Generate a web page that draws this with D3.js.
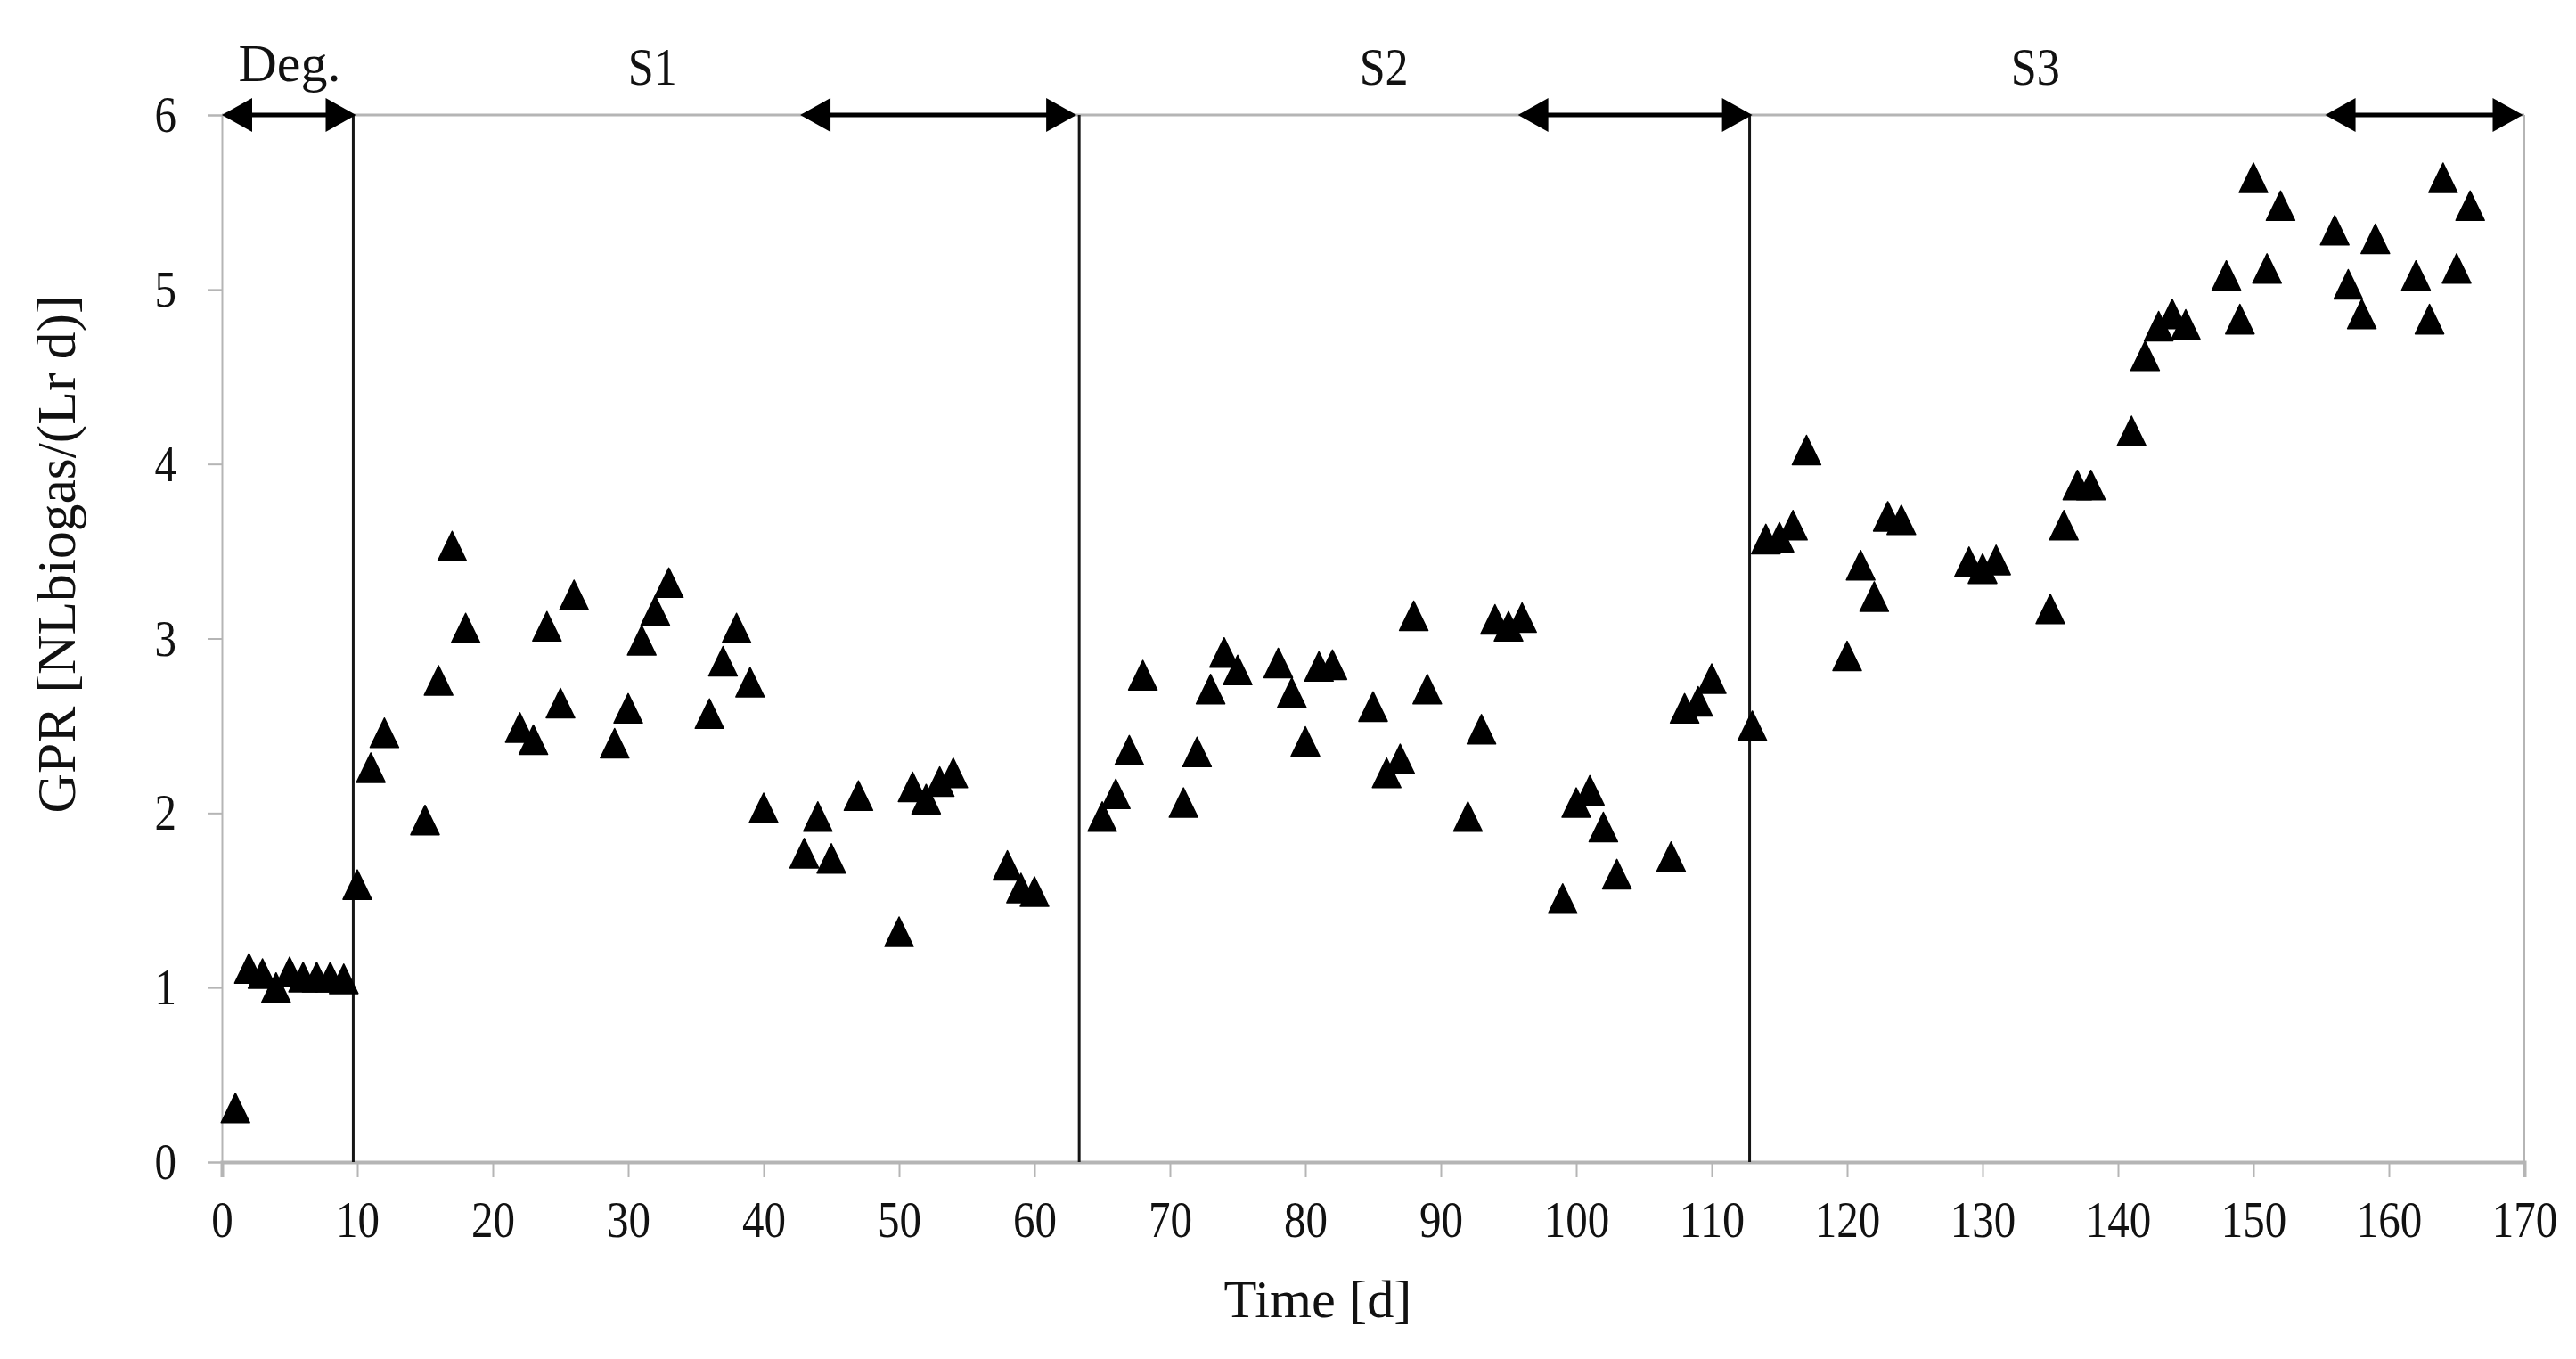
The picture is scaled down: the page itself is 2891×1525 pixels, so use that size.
<!DOCTYPE html>
<html>
<head>
<meta charset="utf-8">
<script src="https://cdn.jsdelivr.net/npm/d3@7"></script>
<style>
  html, body { margin: 0; padding: 0; background: #ffffff; }
  svg { display: block; }
  text { font-family: "Liberation Serif", "Times New Roman", serif; fill: #111; }
</style>
</head>
<body>
<svg id="chart" width="2891" height="1525"></svg>
<script>
// ---------- data ----------
const days = [1,2,3,4,5,6,7,8,9,10,11,12,15,16,17,18,22,23,24,25,26,29,30,31,32,33,36,37,38,39,40,43,44,45,47,50,51,52,53,54,58,59,60,
  65,66,67,68,71,72,73,74,75,78,79,80,81,82,85,86,87,88,89,92,93,94,95,96,99,100,101,102,103,107,108,109,110,113,
  114,115,116,117,120,121,122,123,124,129,130,131,135,136,137,138,141,142,143,144,145,148,149,150,151,152,156,157,158,159,162,163,164,165,166];
const gpr = [0.31,1.11,1.08,1.00,1.09,1.06,1.06,1.06,1.05,1.59,2.26,2.46,1.96,2.76,3.53,3.06,2.49,2.42,3.07,2.63,3.25,2.40,2.60,2.99,3.16,3.32,2.57,2.87,3.06,2.75,2.03,1.77,1.98,1.74,2.10,1.32,2.15,2.08,2.18,2.23,1.70,1.57,1.55,
  1.98,2.11,2.36,2.79,2.06,2.35,2.71,2.92,2.82,2.86,2.69,2.41,2.84,2.85,2.61,2.23,2.31,3.13,2.71,1.98,2.48,3.11,3.07,3.12,1.51,2.06,2.13,1.92,1.65,1.75,2.60,2.64,2.77,2.50,
  3.57,3.58,3.65,4.08,2.90,3.42,3.24,3.70,3.68,3.44,3.40,3.45,3.17,3.65,3.88,3.88,4.19,4.62,4.79,4.86,4.80,5.08,4.83,5.64,5.12,5.48,5.34,5.03,4.86,5.29,5.08,4.83,5.64,5.12,5.48];

const xTicks = [0,10,20,30,40,50,60,70,80,90,100,110,120,130,140,150,160,170];
const yTicks = [0,1,2,3,4,5,6];

const phaseBoundaries = [9.7, 63.3, 112.8];
const phaseLabels = ["Deg.", "S1", "S2", "S3"];
const phaseLabelPos = [5.0, 31.8, 85.8, 133.9];
const arrowStart = [0, 42.7, 95.7, 155.3];
const arrowEnd = [9.9, 63.1, 113.0, 169.9];

const xTitle = "Time [d]";
const yTitle = "GPR [NLbiogas/(Lr d)]";

// ---------- layout ----------
const svg = d3.select("#chart");
const mLeft = 249, mRight = 2833, mTop = 129, mBottom = 1304;
const x = d3.scaleLinear().domain([0, 170]).range([mLeft, mRight]);
const y = d3.scaleLinear().domain([0, 6]).range([mBottom, mTop]);
const FS = 58;
const DIGIT_W = 24.5;
const axisColor = "#b5b5b5";

svg.append("rect").attr("width", 2891).attr("height", 1525).attr("fill", "#fff");

// frame top & right
svg.append("line").attr("x1", x(0)).attr("x2", x(170)).attr("y1", y(6)).attr("y2", y(6))
  .attr("stroke", axisColor).attr("stroke-width", 3);
svg.append("line").attr("x1", x(170)).attr("x2", x(170)).attr("y1", y(6)).attr("y2", y(0))
  .attr("stroke", axisColor).attr("stroke-width", 2);

// y axis
const gy = svg.append("g").attr("transform", `translate(${mLeft},0)`)
  .call(d3.axisLeft(y).tickValues(yTicks).tickFormat(d3.format("d")).tickSize(16).tickPadding(35));
gy.select(".domain").attr("stroke", axisColor).attr("stroke-width", 2);
gy.selectAll(".tick line").attr("stroke", axisColor).attr("stroke-width", 2);
gy.selectAll(".tick text").attr("font-size", FS).attr("font-family", "Liberation Serif").attr("fill", "#111")
  .attr("textLength", d => String(d).length * DIGIT_W).attr("lengthAdjust", "spacingAndGlyphs");

// x axis
const gx = svg.append("g").attr("transform", `translate(0,${mBottom})`)
  .call(d3.axisBottom(x).tickValues(xTicks).tickFormat(d3.format("d")).tickSize(17).tickPadding(28));
gx.select(".domain").attr("stroke", axisColor).attr("stroke-width", 4);
gx.selectAll(".tick line").attr("stroke", axisColor).attr("stroke-width", 2);
gx.selectAll(".tick text").attr("font-size", FS).attr("font-family", "Liberation Serif").attr("fill", "#111")
  .attr("dy", null).attr("y", 84)
  .attr("textLength", d => String(d).length * DIGIT_W).attr("lengthAdjust", "spacingAndGlyphs");

// phase boundary lines
svg.selectAll(".phase").data(phaseBoundaries).enter().append("line")
  .attr("x1", d => x(d)).attr("x2", d => x(d)).attr("y1", y(6)).attr("y2", y(0))
  .attr("stroke", "#151515").attr("stroke-width", 3);

// arrows
const headL = 34, headH = 19;
arrowStart.forEach((s, i) => {
  const x1 = x(s), x2 = x(arrowEnd[i]), yy = y(6);
  svg.append("line").attr("x1", x1 + headL - 2).attr("x2", x2 - headL + 2).attr("y1", yy).attr("y2", yy)
    .attr("stroke", "#000").attr("stroke-width", 5);
  svg.append("path").attr("d", `M${x1},${yy} L${x1 + headL},${yy - headH} L${x1 + headL},${yy + headH} Z`).attr("fill", "#000");
  svg.append("path").attr("d", `M${x2},${yy} L${x2 - headL},${yy - headH} L${x2 - headL},${yy + headH} Z`).attr("fill", "#000");
});

// phase labels
svg.selectAll(".plabel").data(phaseLabels).enter().append("text")
  .attr("x", (d, i) => x(phaseLabelPos[i])).attr("y", (d, i) => i === 0 ? 91 : 95)
  .attr("text-anchor", "middle").attr("font-size", 60)
  .attr("textLength", (d, i) => i === 0 ? 115 : 55).attr("lengthAdjust", "spacingAndGlyphs")
  .text(d => d);

// markers
const mw = 32, mh = 33;
const tri = `M0,${-mh/2} L${mw/2},${mh/2} L${-mw/2},${mh/2} Z`;
svg.append("g").selectAll("path").data(days.map((d, i) => [d, gpr[i]])).enter().append("path")
  .attr("d", tri).attr("transform", d => `translate(${x(d[0])},${y(d[1])})`)
  .attr("fill", "#000").attr("stroke", "#000").attr("stroke-width", 1.5).attr("stroke-linejoin", "round");

// axis titles
svg.append("text").attr("x", 1479).attr("y", 1478).attr("text-anchor", "middle").attr("font-size", 60)
  .attr("textLength", 211).attr("lengthAdjust", "spacingAndGlyphs").text(xTitle);
svg.append("text").attr("transform", `translate(84,622) rotate(-90)`)
  .attr("text-anchor", "middle").attr("font-size", 61)
  .attr("textLength", 581).attr("lengthAdjust", "spacingAndGlyphs").text(yTitle);
</script>
</body>
</html>
